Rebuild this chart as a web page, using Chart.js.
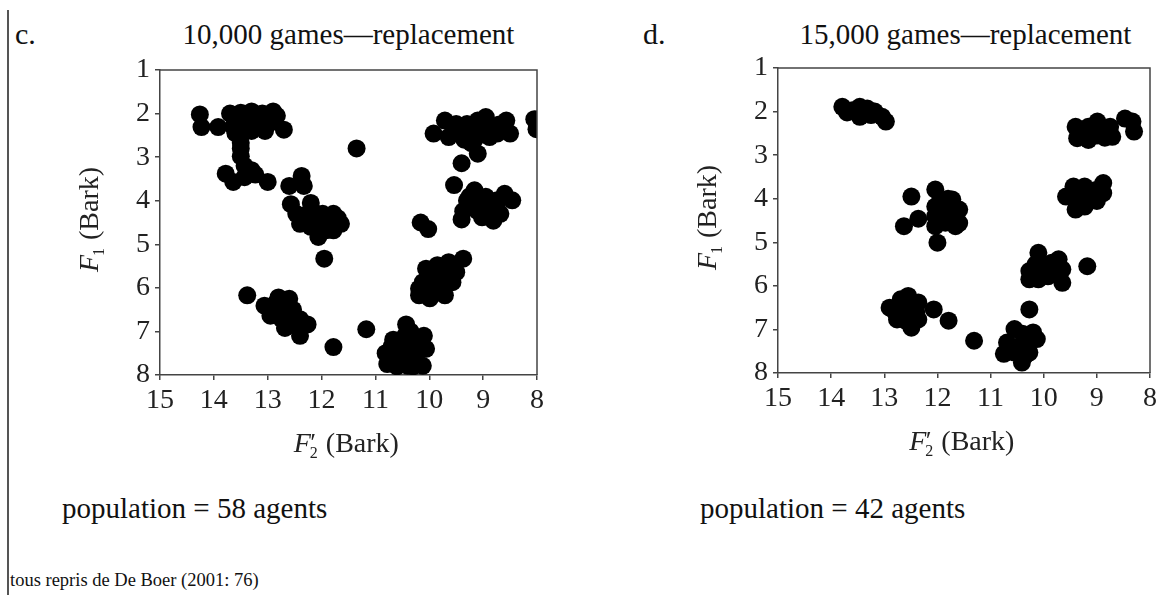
<!DOCTYPE html>
<html>
<head>
<meta charset="utf-8">
<script src="https://cdn.jsdelivr.net/npm/chart.js@4.4.1/dist/chart.umd.min.js"></script>
<style>
  body { margin: 0; background: #fff; font-family: 'Liberation Serif', 'Times New Roman', serif; color: #111; }
  #page { position: relative; width: 1161px; height: 595px; overflow: hidden; }
  .rule { position: absolute; left: 7px; top: 10px; width: 1.5px; height: 585px; background: #555; }
  .txt { position: absolute; white-space: nowrap; line-height: 1; }
  .box { position: absolute; top: 0; height: 470px; }
</style>
</head>
<body>
<div id="page">
  <div class="rule"></div>
  <div class="txt" style="left:15px; top:19px; font-size:30px;">c.</div>
  <div class="txt" style="left:160px; width:377px; text-align:center; top:20px; font-size:29px;">10,000 games—replacement</div>
  <div class="txt" style="left:643px; top:19px; font-size:30px;">d.</div>
  <div class="txt" style="left:778px; width:375px; text-align:center; top:20px; font-size:29px;">15,000 games—replacement</div>
  <div class="box" style="left:0; width:580px;"><canvas id="chart-c"></canvas></div>
  <div class="box" style="left:580px; width:581px;"><canvas id="chart-d"></canvas></div>
  <div class="txt" style="left:62px; top:494px; font-size:29px;">population = 58 agents</div>
  <div class="txt" style="left:700px; top:494px; font-size:29px;">population = 42 agents</div>
  <div class="txt" style="left:10px; top:571px; font-size:18.5px;">tous repris de De Boer (2001: 76)</div>
</div>
<script>
// F2' (Bark), F1 (Bark) pairs
const pointsC = [
  [14.26, 2.02], [14.23, 2.31], [13.92, 2.31], [13.7, 2.0], [13.5, 1.98], [13.3, 1.95], [13.1, 2.0], [12.9, 1.95],
  [12.83, 2.05], [13.64, 2.3], [13.43, 2.4], [13.16, 2.3], [13.0, 2.25], [12.7, 2.37], [13.23, 2.17], [13.45, 2.15],
  [13.6, 2.15], [12.95, 2.2], [13.3, 2.4], [13.55, 2.3], [13.35, 2.25], [13.15, 2.15], [13.05, 2.4], [13.4, 2.05],
  [13.2, 2.05], [13.0, 2.1], [13.6, 2.45],
  [13.5, 2.67], [13.5, 2.98], [13.43, 3.2], [13.3, 3.3], [13.23, 3.4], [13.43, 3.46], [13.78, 3.38], [13.64, 3.57],
  [13.0, 3.57], [13.5, 2.8],
  [12.6, 3.66], [12.37, 3.43], [12.33, 3.66], [12.57, 4.08], [12.47, 4.3], [12.2, 4.05], [12.26, 4.3], [12.12, 4.46],
  [11.98, 4.3], [11.78, 4.3], [11.64, 4.53], [11.92, 4.68], [12.06, 4.83], [11.78, 4.68], [12.2, 4.6], [12.4, 4.53],
  [11.85, 4.45], [12.05, 4.55], [12.3, 4.45], [12.1, 4.3], [11.9, 4.55], [12.0, 4.7], [11.7, 4.4], [11.95, 5.33],
  [11.35, 2.8],
  [13.38, 6.17], [13.06, 6.41], [12.8, 6.22], [12.6, 6.25], [12.95, 6.64], [12.74, 6.72], [12.53, 6.5], [12.4, 6.72],
  [12.26, 6.84], [12.4, 7.1], [12.68, 6.92], [12.88, 6.5], [12.7, 6.5], [12.85, 6.35], [12.65, 6.75], [12.55, 6.85],
  [12.8, 6.6], [11.78, 7.36], [11.17, 6.95],
  [10.43, 6.84], [10.67, 7.19], [10.81, 7.5], [10.78, 7.75], [10.4, 7.79], [10.12, 7.79], [10.1, 7.1], [10.06, 7.4],
  [10.54, 7.4], [10.33, 7.33], [10.26, 7.55], [10.55, 7.65], [10.45, 7.1], [10.25, 7.15], [10.65, 7.6], [10.35, 7.55],
  [10.2, 7.45], [10.5, 7.25], [10.7, 7.35], [10.35, 7.0], [10.15, 7.3], [10.6, 7.8], [10.3, 7.8],
  [10.16, 4.5], [10.02, 4.65], [9.37, 5.33], [10.19, 6.17], [10.12, 5.87], [10.06, 5.56], [9.85, 5.48], [9.64, 5.41],
  [9.5, 5.64], [9.57, 5.87], [9.71, 6.17], [9.99, 6.24], [9.88, 5.94], [9.71, 5.79], [10.19, 6.02], [9.9, 5.7],
  [10.0, 5.8], [9.8, 5.65], [9.75, 6.0], [10.05, 6.1], [9.9, 6.1], [9.6, 5.6],
  [9.92, 2.46], [9.71, 2.16], [9.5, 2.24], [9.3, 2.24], [9.1, 2.16], [8.95, 2.08], [8.74, 2.46], [8.57, 2.16],
  [8.5, 2.46], [9.64, 2.54], [9.43, 2.46], [9.16, 2.6], [9.02, 2.46], [8.88, 2.54], [9.1, 2.92], [9.4, 3.14],
  [9.22, 2.68], [8.65, 2.35], [9.55, 2.4], [9.25, 2.45], [8.85, 2.3], [9.35, 2.6], [8.7, 2.25], [8.05, 2.13], [8.01, 2.36],
  [9.54, 3.64], [9.16, 3.76], [8.95, 3.91], [9.3, 4.0], [9.37, 4.24], [9.4, 4.43], [9.1, 4.24], [8.88, 4.16],
  [8.68, 4.3], [8.6, 3.84], [8.46, 3.99], [8.74, 3.99], [9.02, 4.38], [8.81, 4.46], [9.05, 4.05], [9.2, 4.1],
  [8.9, 4.3], [9.25, 3.9], [8.75, 4.15]
];

const pointsD = [
  [13.79, 1.89], [13.6, 1.97], [13.46, 2.12], [13.32, 1.93], [13.18, 2.0], [13.04, 2.12], [12.97, 2.23], [13.46, 1.89],
  [13.25, 2.08], [13.7, 2.02],
  [12.49, 3.95], [12.63, 4.63], [12.36, 4.46], [12.04, 3.79], [12.04, 4.18], [12.04, 4.63], [12.0, 5.01], [11.72, 4.02],
  [11.59, 4.25], [11.59, 4.56], [11.79, 4.4], [11.86, 4.18], [11.66, 4.63], [12.04, 4.4], [11.85, 4.55], [12.0, 4.3],
  [11.7, 4.3], [11.95, 4.05], [11.8, 4.0],
  [12.9, 6.5], [12.69, 6.31], [12.55, 6.23], [12.36, 6.38], [12.76, 6.77], [12.49, 6.96], [12.36, 6.77], [12.63, 6.61],
  [12.5, 6.5], [12.8, 6.6], [12.6, 6.8], [12.55, 6.4], [12.4, 6.6], [12.7, 6.45], [12.07, 6.54], [11.79, 6.8], [11.31, 7.26],
  [10.75, 7.56], [10.55, 6.99], [10.41, 7.37], [10.41, 7.76], [10.55, 7.53], [10.27, 7.53], [10.13, 7.22], [10.2, 7.07],
  [10.27, 6.54], [10.69, 7.3], [10.4, 7.1], [10.45, 7.45], [10.3, 7.3], [10.35, 7.6], [10.6, 7.4],
  [10.27, 5.66], [10.27, 5.85], [10.1, 5.24], [9.99, 5.55], [9.85, 5.47], [9.72, 5.39], [9.65, 5.62], [9.65, 5.93],
  [9.92, 5.78], [10.1, 5.85], [10.0, 5.7], [9.8, 5.6], [10.15, 5.5], [9.18, 5.55],
  [9.58, 3.95], [9.44, 3.72], [9.4, 4.25], [9.23, 3.72], [9.02, 3.8], [8.88, 3.64], [8.88, 3.87], [9.09, 4.02],
  [9.23, 4.18], [9.02, 3.95], [9.3, 3.95], [9.35, 4.1], [9.15, 3.9], [9.0, 4.05], [9.3, 3.8],
  [9.4, 2.35], [9.37, 2.61], [9.16, 2.35], [9.16, 2.65], [8.99, 2.23], [8.89, 2.42], [8.71, 2.58], [8.75, 2.35],
  [9.3, 2.55], [9.1, 2.45], [8.95, 2.5], [8.85, 2.6], [8.47, 2.16], [8.33, 2.23], [8.3, 2.46], [9.25, 2.5], [9.0, 2.55]
];

const xRange = [8, 15];
const yRange = [1, 8];

const serif = "'Liberation Serif', 'Times New Roman', serif";
const ink = '#222';

// top + right edges of the frame, and the F1 / F2' axis titles with italic F and subscripts
const framePlugin = {
  id: 'frame',
  afterDraw (chart) {
    const { ctx, chartArea: a } = chart;
    ctx.save();
    ctx.strokeStyle = '#444';
    ctx.lineWidth = 1.5;
    ctx.beginPath();
    ctx.moveTo(a.left, a.top);
    ctx.lineTo(a.right, a.top);
    ctx.lineTo(a.right, a.bottom);
    ctx.stroke();

    ctx.fillStyle = ink;
    ctx.textBaseline = 'alphabetic';
    drawAxisTitle(ctx, (a.left + a.right) / 2, a.bottom + 77, '2', true);
    ctx.translate(a.left - 62, (a.top + a.bottom) / 2 - 3);
    ctx.rotate(-Math.PI / 2);
    drawAxisTitle(ctx, 0, 0, '1', false);
    ctx.restore();
  }
};

function drawAxisTitle (ctx, cx, baseline, sub, prime) {
  const big = 'italic 28px ' + serif;
  const small = '16px ' + serif;
  const plain = '28px ' + serif;
  ctx.font = big;
  const wF = ctx.measureText('F').width;
  ctx.font = small;
  const wSub = ctx.measureText(sub).width;
  ctx.font = plain;
  const wPrime = prime ? ctx.measureText('′').width * 0.7 : 0;
  const rest = ' (Bark)';
  const wRest = ctx.measureText(rest).width;
  let x = cx - (wF + wSub + wPrime + wRest) / 2;
  ctx.textAlign = 'left';
  ctx.font = big;
  ctx.fillText('F', x, baseline);
  x += wF;
  ctx.font = small;
  ctx.fillText(sub, x - 1, baseline + 6);
  if (prime) {
    ctx.font = 'italic 26px ' + serif;
    ctx.fillText('′', x - 2, baseline - 1);
  }
  x += Math.max(wSub, wPrime);
  ctx.font = plain;
  ctx.fillText(rest, x, baseline);
}

function makeChart (id, points, box) {
  // eslint-disable-next-line no-undef
  return new Chart(id, {
    type: 'scatter',
    data: {
      datasets: [{
        data: points.map(p => ({ x: p[0], y: p[1] })),
        backgroundColor: '#000',
        borderWidth: 0,
        pointRadius: 9,
        pointHoverRadius: 9
      }]
    },
    options: {
      responsive: false,
      animation: false,
      events: [],
      layout: { padding: { top: box.top, right: box.right, left: 0, bottom: 0 } },
      plugins: { legend: { display: false }, tooltip: { enabled: false } },
      scales: {
        x: {
          type: 'linear',
          min: xRange[0],
          max: xRange[1],
          reverse: true,
          afterFit: scale => { scale.height = box.xHeight; },
          ticks: { stepSize: 1, color: ink, padding: 4, font: { family: serif, size: 28 } },
          grid: { display: true, drawOnChartArea: false, drawTicks: true, tickLength: 5, color: '#444', lineWidth: 1.5 },
          border: { display: true, color: '#444', width: 1.5 }
        },
        y: {
          type: 'linear',
          min: yRange[0],
          max: yRange[1],
          reverse: true,
          afterFit: scale => { scale.width = box.yWidth; },
          ticks: { stepSize: 1, color: ink, padding: 5, font: { family: serif, size: 28 } },
          grid: { display: true, drawOnChartArea: false, drawTicks: true, tickLength: 5, color: '#444', lineWidth: 1.5 },
          border: { display: true, color: '#444', width: 1.5 }
        }
      }
    },
    plugins: [framePlugin]
  });
}

function sizeCanvas (id, w, h) {
  const el = document.getElementById(id);
  el.width = w;
  el.height = h;
  el.style.width = w + 'px';
  el.style.height = h + 'px';
}

sizeCanvas('chart-c', 580, 470);
sizeCanvas('chart-d', 581, 470);
makeChart('chart-c', pointsC, { top: 70, right: 43, yWidth: 160, xHeight: 95 });
makeChart('chart-d', pointsD, { top: 68, right: 8, yWidth: 198, xHeight: 97 });
</script>
</body>
</html>
